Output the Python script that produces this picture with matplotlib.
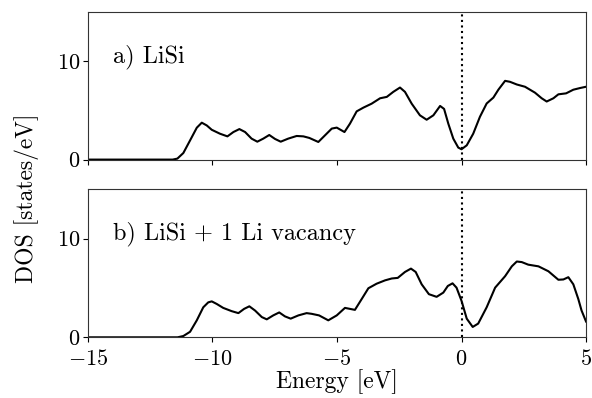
# =====================
# Libraries
# =====================
import numpy as np
import matplotlib.pyplot as plt

# =====================
# DOS data (energy in eV, DOS in states/eV)
# =====================
energy_lisi = [-15, -11.6, -11.41, -11.17, -10.90, -10.63, -10.43, -10.23, -10.03, -9.70,
               -9.40, -9.16, -8.92, -8.69, -8.43, -8.20, -7.96, -7.72, -7.49, -7.26,
               -6.96, -6.62, -6.35, -6.11, -5.75, -5.48, -5.21, -5.01, -4.70, -4.48,
               -4.21, -3.94, -3.61, -3.27, -3.0, -2.74, -2.47, -2.27, -2.0, -1.67,
               -1.40, -1.13, -0.86, -0.70, -0.53, -0.33, -0.13, 0.0, 0.21, 0.47,
               0.74, 1.01, 1.28, 1.48, 1.75, 1.95, 2.22, 2.55, 2.95, 3.22,
               3.42, 3.69, 3.89, 4.2, 4.49, 4.76, 5.0]
dos_lisi = [0, 0, 0.1, 0.67, 1.95, 3.24, 3.75, 3.47, 3.03, 2.63,
            2.36, 2.8, 3.1, 2.8, 2.13, 1.82, 2.13, 2.5, 2.1, 1.82,
            2.13, 2.4, 2.36, 2.2, 1.79, 2.47, 3.15, 3.25, 2.8, 3.65,
            4.9, 5.28, 5.68, 6.23, 6.37, 6.88, 7.32, 6.88, 5.68, 4.5,
            4.05, 4.5, 5.45, 5.15, 3.65, 2.13, 1.22, 1.05, 1.45, 2.63,
            4.35, 5.7, 6.3, 7.1, 8.0, 7.9, 7.63, 7.4, 6.8, 6.23,
            5.9, 6.23, 6.63, 6.73, 7.1, 7.27, 7.4]

energy_vac = [-15, -11.4, -11.17, -10.90, -10.63, -10.37, -10.17, -10.03, -9.83, -9.57,
              -9.23, -8.96, -8.73, -8.52, -8.29, -8.02, -7.82, -7.56, -7.32, -7.09,
              -6.86, -6.55, -6.22, -6.02, -5.72, -5.35, -5.01, -4.68, -4.28, -4.01,
              -3.74, -3.41, -3.07, -2.80, -2.56, -2.27, -2.03, -1.84, -1.60, -1.31,
              -1.0, -0.73, -0.55, -0.36, -0.2, 0.0, 0.21, 0.45, 0.67, 1.01,
              1.35, 1.75, 2.02, 2.22, 2.42, 2.68, 3.09, 3.49, 3.89, 4.09,
              4.29, 4.49, 4.69, 4.82, 5.0]
dos_vac = [0, 0, 0.13, 0.56, 1.72, 3.04, 3.54, 3.64, 3.38, 2.98,
           2.65, 2.45, 2.88, 3.14, 2.71, 2.05, 1.82, 2.22, 2.52, 2.12,
           1.89, 2.22, 2.45, 2.38, 2.22, 1.72, 2.22, 2.98, 2.78, 3.87,
           4.97, 5.43, 5.77, 5.96, 6.02, 6.62, 6.96, 6.62, 5.37, 4.37,
           4.1, 4.53, 5.2, 5.47, 5.03, 3.7, 1.89, 1.05, 1.39, 3.04,
           5.03, 6.19, 7.19, 7.68, 7.62, 7.36, 7.19, 6.69, 5.83, 5.86,
           6.09, 5.37, 3.88, 2.72, 1.6]

labels = ["a) LiSi", "b) LiSi + 1 Li vacancy"]
x_ticks = [-15, -10, -5, 0, 5]
y_ticks = [0, 10]

# =====================
# Style (Computer Modern look)
# =====================
plt.rcParams['font.family'] = 'cmr10'
plt.rcParams['mathtext.fontset'] = 'cm'
plt.rcParams['axes.formatter.use_mathtext'] = True
plt.rcParams['axes.unicode_minus'] = True

fig = plt.figure(figsize=(5.92, 3.98), dpi=100)
ax1 = fig.add_axes([0.1486, 0.599, 0.8413, 0.371])
ax2 = fig.add_axes([0.1486, 0.1525, 0.8413, 0.372])

for ax, e, d, lab in [(ax1, energy_lisi, dos_lisi, labels[0]),
                      (ax2, energy_vac, dos_vac, labels[1])]:
    ax.plot(e, d, color='black', linewidth=1.5)
    ax.axvline(0, color='black', linestyle=':', linewidth=1.5)
    ax.set_xlim(-15, 5)
    ax.set_ylim(0, 15)
    ax.set_xticks(x_ticks)
    ax.set_yticks(y_ticks)
    ax.tick_params(direction='out', length=3.5, width=0.8, labelsize=16, pad=2,
                   top=False, right=False)
    ax.tick_params(axis='x', pad=5)
    for s in ax.spines.values():
        s.set_linewidth(0.8)
        s.set_color('#333333')
    ax.text(0.05, 0.70, lab, transform=ax.transAxes, fontsize=17.5,
            ha='left', va='center')

ax1.tick_params(labelbottom=False)
ax2.set_xlabel("Energy [eV]", fontsize=17, labelpad=0)
fig.text(0.045, 0.5025, "DOS [states/eV]", rotation=90, fontsize=17,
         ha='center', va='center')

plt.savefig("out.png", dpi=100)
